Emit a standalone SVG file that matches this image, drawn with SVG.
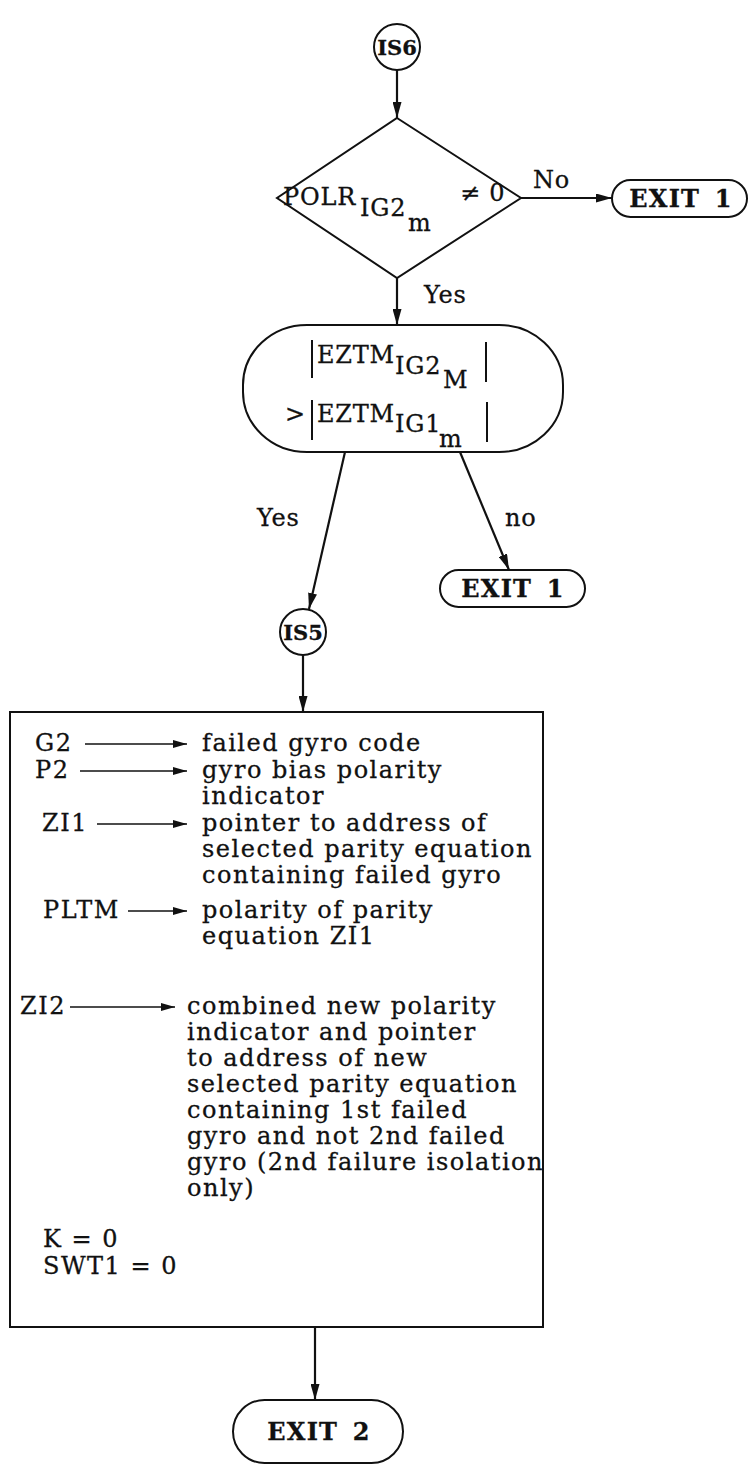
<svg xmlns="http://www.w3.org/2000/svg" width="749" height="1466" viewBox="0 0 749 1466">
  <defs>
    <marker id="arrow" viewBox="0 0 16 9" refX="16" refY="4.5" markerWidth="16" markerHeight="9" markerUnits="userSpaceOnUse" orient="auto">
      <path d="M0,0 L16,4.5 L0,9 Z" fill="#111"/>
    </marker>
    <marker id="arrow-sm" viewBox="0 0 14 8" refX="14" refY="4" markerWidth="14" markerHeight="8" markerUnits="userSpaceOnUse" orient="auto">
      <path d="M0,0 L14,4 L0,8 Z" fill="#111"/>
    </marker>
    <style>
      .shape { fill: #fff; stroke: #111; stroke-width: 2; }
      .conn { fill: none; stroke: #111; stroke-width: 2.2; marker-end: url(#arrow); }
      .thin { fill: none; stroke: #111; stroke-width: 1.6; marker-end: url(#arrow-sm); }
      .bar { stroke: #111; stroke-width: 2; }
      text { font-family: "DejaVu Serif", "Liberation Serif", serif; fill: #111; stroke: #111; stroke-width: 0.3; }
      .lbl { font-size: 24px; font-weight: bold; text-anchor: middle; letter-spacing: 1.2px; }
      .conn-lbl { font-size: 21px; font-weight: bold; text-anchor: middle; }
      .body { font-size: 24px; letter-spacing: 1.5px; }
      .math { font-size: 24px; letter-spacing: 0.8px; }
    </style>
  </defs>
  <rect width="749" height="1466" fill="#fff"/>

  <!-- connectors -->
  <g id="connectors">
    <line class="conn" x1="397" y1="70" x2="397" y2="118"/>
    <line class="conn" x1="521" y1="198" x2="612" y2="198"/>
    <line class="conn" x1="397" y1="278" x2="397" y2="325"/>
    <line class="conn" x1="345" y1="452" x2="309" y2="609"/>
    <line class="conn" x1="460" y1="452" x2="509" y2="570"/>
    <line class="conn" x1="303" y1="655" x2="303" y2="712"/>
    <line class="conn" x1="315" y1="1327" x2="315" y2="1400"/>
    <text x="533" y="188" class="math">No</text>
    <text x="424" y="303" class="math">Yes</text>
    <text x="257" y="526" class="math">Yes</text>
    <text x="505" y="526" class="math">no</text>
  </g>

  <!-- entry connector IS6 -->
  <g id="is6">
    <circle class="shape" cx="397" cy="47" r="23"/>
    <text x="397" y="55" class="conn-lbl">IS6</text>
  </g>

  <!-- polarity test -->
  <g id="polr-test">
    <polygon class="shape" points="397,118 521,198 397,278 277,198"/>
    <text x="283" y="205" class="math">POLR</text>
    <text x="360" y="216" class="math">IG2</text>
    <text x="408" y="231" class="math">m</text>
    <text x="460" y="201" class="math" letter-spacing="0">≠ 0</text>
  </g>

  <g id="exit1-a">
    <rect class="shape" x="612" y="180" width="135" height="37" rx="18.5"/>
    <text x="681" y="207" class="lbl" word-spacing="5">EXIT 1</text>
  </g>

  <!-- magnitude comparison -->
  <g id="eztm-compare">
    <rect class="shape" x="243" y="325" width="320" height="127" rx="64" ry="60"/>
    <line class="bar" x1="312" y1="340" x2="312" y2="378"/>
    <text x="317" y="363" class="math">EZTM</text>
    <text x="395" y="374" class="math">IG2</text>
    <text x="443" y="388" class="math">M</text>
    <line class="bar" x1="486" y1="342" x2="486" y2="382"/>
    <text x="285" y="422" class="math">&gt;</text>
    <line class="bar" x1="312" y1="400" x2="312" y2="440"/>
    <text x="317" y="422" class="math">EZTM</text>
    <text x="395" y="432" class="math">IG1</text>
    <text x="439" y="447" class="math">m</text>
    <line class="bar" x1="487" y1="402" x2="487" y2="442"/>
  </g>

  <g id="exit1-b">
    <rect class="shape" x="440" y="570" width="145" height="37" rx="18.5"/>
    <text x="513" y="597" class="lbl" word-spacing="5">EXIT 1</text>
  </g>

  <!-- entry connector IS5 -->
  <g id="is5">
    <circle class="shape" cx="303" cy="632" r="23"/>
    <text x="303" y="640" class="conn-lbl">IS5</text>
  </g>

  <!-- failure bookkeeping block -->
  <g id="assign-block">
    <rect class="shape" x="10" y="712" width="533" height="615"/>
    <line class="thin" x1="85" y1="744" x2="187" y2="744"/>
    <line class="thin" x1="80" y1="771" x2="187" y2="771"/>
    <line class="thin" x1="97" y1="824" x2="187" y2="824"/>
    <line class="thin" x1="128" y1="911" x2="187" y2="911"/>
    <line class="thin" x1="70" y1="1007" x2="175" y2="1007"/>
    <text x="35" y="751" class="body">G2</text>
    <text x="35" y="778" class="body">P2</text>
    <text x="42" y="831" class="body">ZI1</text>
    <text x="43" y="918" class="body">PLTM</text>
    <text x="20" y="1014" class="body">ZI2</text>
    <text x="202" y="751" class="body">failed gyro code</text>
    <text x="202" y="778" class="body">gyro bias polarity</text>
    <text x="202" y="804" class="body">indicator</text>
    <text x="202" y="831" class="body">pointer to address of</text>
    <text x="202" y="857" class="body">selected parity equation</text>
    <text x="202" y="883" class="body">containing failed gyro</text>
    <text x="202" y="918" class="body">polarity of parity</text>
    <text x="202" y="944" class="body">equation ZI1</text>
    <text x="187" y="1014" class="body">combined new polarity</text>
    <text x="187" y="1040" class="body">indicator and pointer</text>
    <text x="187" y="1066" class="body">to address of new</text>
    <text x="187" y="1092" class="body">selected parity equation</text>
    <text x="187" y="1118" class="body">containing 1st failed</text>
    <text x="187" y="1144" class="body">gyro and not 2nd failed</text>
    <text x="187" y="1170" class="body" letter-spacing="1.3">gyro (2nd failure isolation</text>
    <text x="187" y="1196" class="body">only)</text>
    <text x="43" y="1247" class="body" font-size="22">K = 0</text>
    <text x="43" y="1274" class="body" font-size="22">SWT1 = 0</text>
  </g>

  <g id="exit2">
    <rect class="shape" x="233" y="1400" width="170" height="63" rx="31.5"/>
    <text x="319" y="1440" class="lbl" word-spacing="5">EXIT 2</text>
  </g>
</svg>
